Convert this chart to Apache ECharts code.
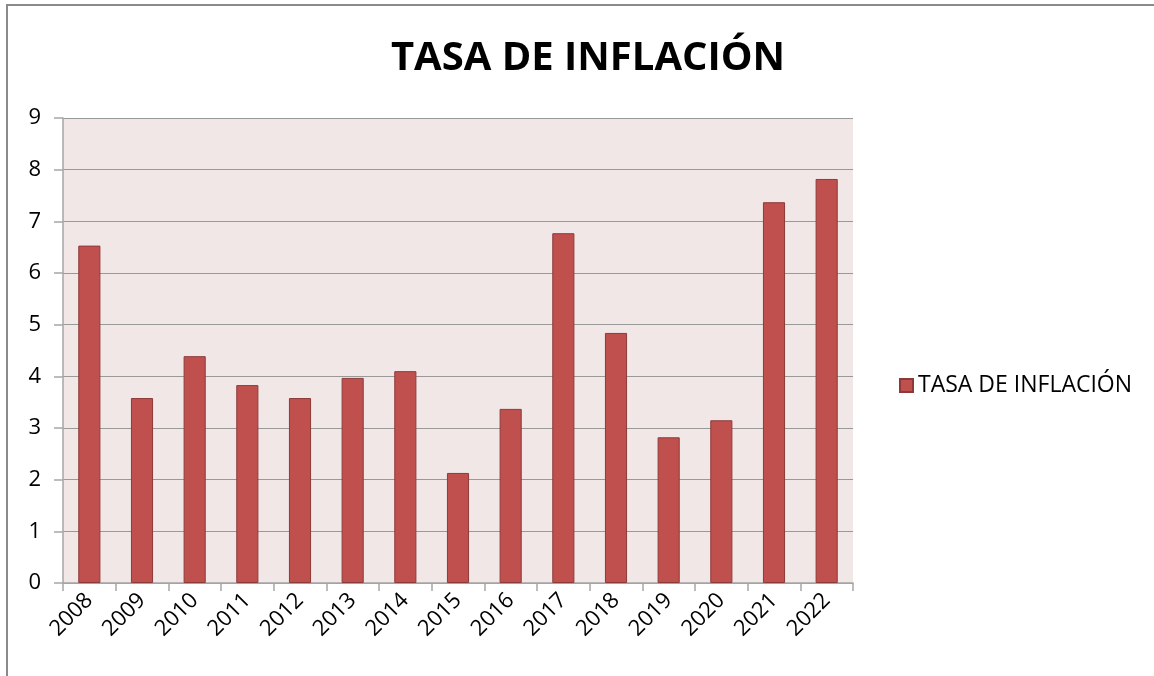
<!DOCTYPE html>
<html>
<head>
<meta charset="utf-8">
<script src="https://cdn.jsdelivr.net/npm/echarts@6/dist/echarts.min.js"></script>
<style>
  html, body { margin: 0; padding: 0; background: #fff; }
  #chart { width: 1154px; height: 676px; }
</style>
</head>
<body>
<div id="chart"></div>
<script>
// datos del gráfico
const years = ["2008", "2009", "2010", "2011", "2012", "2013", "2014", "2015",
  "2016", "2017", "2018", "2019", "2020", "2021", "2022"];
const inflation = [6.53, 3.58, 4.39, 3.83, 3.58, 3.97, 4.10, 2.13,
  3.37, 6.77, 4.84, 2.82, 3.15, 7.37, 7.82];
const seriesName = "TASA DE INFLACIÓN";
const yTicks = [0, 1, 2, 3, 4, 5, 6, 7, 8, 9];

const myChart = echarts.init(document.getElementById("chart"));

const option = {
  animation: false,
  textStyle: { fontFamily: "Open Sans" },
  title: {
    text: "TASA DE INFLACIÓN",
    left: 583,
    textAlign: "center",
    top: 34,
    textStyle: { fontSize: 40, fontWeight: "bold", color: "#000", fontFamily: "Open Sans" },
  },
  legend: {
    data: [seriesName],
    orient: "vertical",
    left: 894,
    top: 369,
    icon: "rect",
    itemWidth: 13,
    itemHeight: 13,
    itemGap: 6,
    textStyle: { fontSize: 23, color: "#000", fontFamily: "Open Sans" },
  },
  grid: { left: 63, right: 301, top: 118, bottom: 93, show: true, backgroundColor: "#F2E7E7", borderWidth: 0 },
  xAxis: {
    type: "category",
    data: years,
    axisLine: { show: true, lineStyle: { color: "#A6A6A6", width: 1.5 } },
    axisTick: { show: true, length: 8, lineStyle: { color: "#A6A6A6", width: 1.5 } },
    axisLabel: { rotate: 45, fontSize: 22, color: "#000", margin: 14, interval: 0 },
  },
  yAxis: {
    type: "value",
    min: yTicks[0],
    max: yTicks[yTicks.length - 1],
    interval: 1,
    axisLine: { show: true, lineStyle: { color: "#A6A6A6", width: 1.5 } },
    axisTick: { show: true, length: 9, lineStyle: { color: "#A6A6A6", width: 1.5 } },
    axisLabel: { fontSize: 22, color: "#000", margin: 22 },
    splitLine: { show: true, lineStyle: { color: "#999", width: 1.2 } },
  },
  graphic: [
    { type: "line", shape: { x1: 6, y1: 5, x2: 1154, y2: 5 }, style: { stroke: "#8A8A8A", lineWidth: 2 } },
    { type: "line", shape: { x1: 7, y1: 4, x2: 7, y2: 676 }, style: { stroke: "#8A8A8A", lineWidth: 2 } },
  ],
  series: [
    {
      name: seriesName,
      type: "bar",
      data: inflation,
      barWidth: "42%",
      itemStyle: { color: "#C0504D", borderColor: "#8C3A38", borderWidth: 1 },
    },
  ],
};

myChart.setOption(option);
</script>
</body>
</html>
